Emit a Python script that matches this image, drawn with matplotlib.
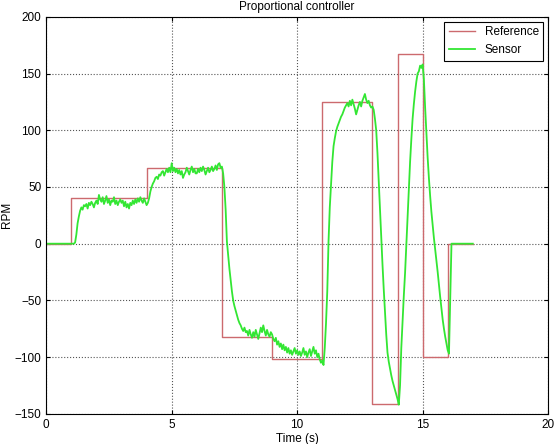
import numpy as np
import matplotlib
matplotlib.use('Agg')
import matplotlib.pyplot as plt

plt.rcParams['font.family'] = ['Liberation Sans', 'DejaVu Sans']

# Reference (setpoint) steps
ref_t = [0, 1, 4, 7, 9, 11, 13, 14, 15, 16, 17]
ref_rpm = [0, 40, 67, -82, -102, 125, -141, 167, -100, 0, 0]

# Sensor readings, sampled every 0.05 s from 0 to 17 s
sensor_dt = 0.05
sensor_rpm = [
    # 0 - 1 s
    0, 0, 0, 0, 0, 0, 0, 0, 0, 0, 0, 0, 0, 0, 0, 0, 0, 0, 0, 0,
    # 1 - 2 s
    0, 0, 0, 1, 8, 18, 24, 29, 32, 30, 34, 33, 35, 31, 36, 34, 37, 35, 32, 36,
    # 2 - 3 s
    38, 35, 43, 39, 37, 41, 35, 38, 42, 36, 39, 34, 38, 37, 41, 35, 38, 34, 37, 39,
    # 3 - 4 s
    36, 38, 33, 37, 32, 35, 31, 36, 34, 38, 35, 39, 36, 40, 37, 41, 38, 36, 40, 37,
    # 4 - 5 s
    34, 36, 40, 46, 50, 53, 55, 58, 59, 57, 61, 60, 63, 64, 60, 63, 66, 63, 67, 63,
    # 5 - 6 s
    71, 64, 67, 63, 66, 62, 65, 61, 64, 58, 61, 63, 67, 64, 61, 65, 68, 63, 66, 62,
    # 6 - 7 s
    62, 66, 63, 67, 64, 68, 65, 61, 64, 67, 63, 65, 68, 64, 66, 69, 65, 70, 71, 67,
    # 7 - 8 s
    68, 62, 50, 30, 2, -10, -22, -32, -42, -50, -55, -59, -63, -67, -70, -72, -75, -77, -74, -78,
    # 8 - 9 s
    -77, -81, -76, -80, -83, -78, -82, -76, -80, -84, -79, -74, -78, -72, -77, -81, -76, -80, -82, -78,
    # 9 - 10 s
    -80, -84, -86, -83, -89, -86, -91, -88, -93, -89, -94, -91, -96, -92, -97, -94, -98, -95, -92, -97,
    # 10 - 11 s
    -94, -98, -95, -99, -96, -92, -98, -95, -100, -96, -93, -99, -95, -91, -97, -94, -100, -97, -102, -105,
    # 11 - 12 s
    -103, -107, -92, -70, -42, 2, 32, 52, 72, 86, 93, 99, 103, 106, 109, 112, 114, 117, 120, 122,
    # 12 - 13 s
    124, 121, 126, 122, 127, 123, 119, 114, 118, 122, 125, 121, 126, 129, 132, 127, 124, 126, 122, 120,
    # 13 - 14 s
    121, 118, 110, 100, 80, 55, 28, 5, -18, -40, -60, -80, -96, -104, -110, -116, -121, -125, -129, -133,
    # 14 - 15 s
    -137, -142, -125, -92, -68, -46, -26, -1, 24, 50, 72, 92, 110, 123, 134, 143, 150, 152, 157, 155,
    # 15 - 16 s
    158, 145, 120, 98, 76, 58, 42, 28, 16, 5, -5, -15, -25, -36, -47, -57, -67, -75, -82, -88,
    # 16 - 17 s
    -94, -97, -50, 0, 0, 0, 0, 0, 0, 0, 0, 0, 0, 0, 0, 0, 0, 0, 0, 0,
    # 17 s
    0,
]
sensor_t = np.arange(len(sensor_rpm)) * sensor_dt

fig = plt.figure(figsize=(5.57, 4.44), dpi=100)
ax = fig.add_axes([0.083, 0.068, 0.901, 0.894])

ax.plot(ref_t, ref_rpm, drawstyle='steps-post', color='#cc6a6e', lw=1.0, label='Reference')
ax.plot(sensor_t, sensor_rpm, color='#33e633', lw=1.3, label='Sensor')

ax.set_xlim(0, 20)
ax.set_ylim(-150, 200)
ax.set_xticks([0, 5, 10, 15, 20])
ax.set_yticks([-150, -100, -50, 0, 50, 100, 150, 200])
ax.tick_params(direction='in', length=3, labelsize=8.5, top=True, right=True)
ax.grid(True, linestyle=':', color='#555555', lw=0.8)

ax.set_title('Proportional controller', fontsize=8.5, pad=5)
ax.set_xlabel('Time (s)', fontsize=8.5, labelpad=2)
ax.set_ylabel('RPM', fontsize=8.5)
ax.yaxis.set_label_coords(-0.066, 0.5)

leg = ax.legend(loc='upper right', fontsize=8.5, fancybox=False, framealpha=1,
                edgecolor='black', handlelength=2.2, borderaxespad=0.4)
leg.get_frame().set_linewidth(0.8)

fig.savefig('out.png', dpi=100)
